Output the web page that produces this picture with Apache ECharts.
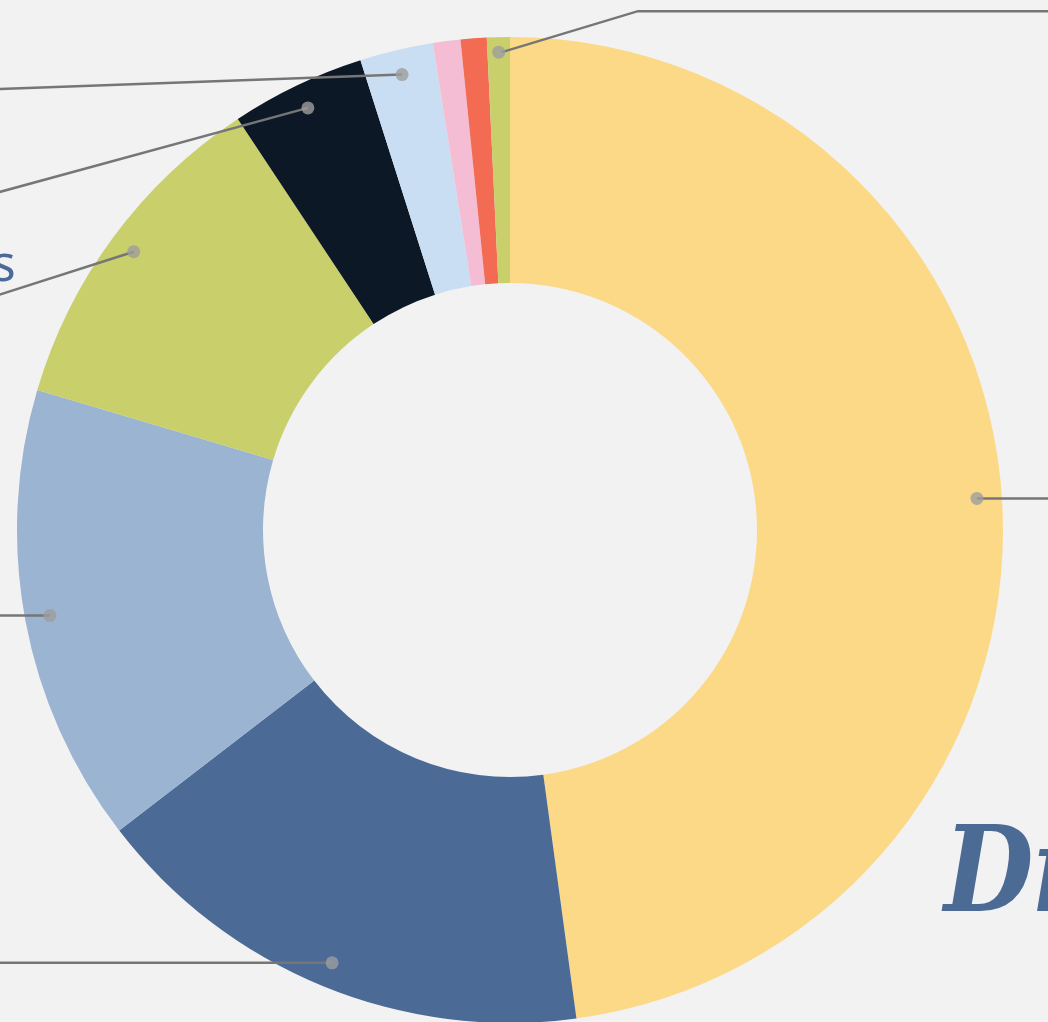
<!DOCTYPE html>
<html><head><meta charset="utf-8">
<script src="https://cdn.jsdelivr.net/npm/echarts@6/dist/echarts.min.js"></script>
<style>html,body{margin:0;padding:0;background:#f2f2f2;overflow:hidden}#chart{width:1048px;height:1022px}</style>
</head><body><div id="chart"></div>
<script>
// ---- data ----
const categories = ["Housing", "Transportation", "Food", "Utilities", "Healthcare", "Insurance", "Education", "Entertainment", "Other"];
const values = [47.8, 16.7, 15.0, 11.1, 4.4, 2.4, 0.9, 0.85, 0.75];
const titleText = "Distribution";

// ---- styles ----
const colors = ['#fcd987', '#4b6b96', '#9bb4d1', '#c9cf6a', '#0c1826', '#c9def3', '#f5bdd4', '#f26b52', '#c9cf6a'];
const hasLeader = [true, true, true, true, true, true, false, false, true];
const CX = 510, CY = 530, R_OUT = 493, R_IN = 247, R_DOT = 468;
const dotRadius = [468, 468, 468, 468, 468, 468, 468, 468, 478];
// leader geometry relative to the dot (bend, end) and label anchor
const leaders = [
  { pts: [[150, 0], [400, 0]], label: [410, 0], align: 'left' },
  { pts: [[-250, 0], [-500, 0]], label: [-510, 0], align: 'right' },
  { pts: [[-150, 0], [-400, 0]], label: [-410, 0], align: 'right' },
  { pts: [[-172, 55], [-450, 55]], label: [-118, 15], align: 'right' },
  { pts: [[-407, 111], [-700, 111]], label: [-710, 111], align: 'right' },
  { pts: [[-502, 18], [-800, 18]], label: [-810, 18], align: 'right' },
  null, null,
  { start: [3, -10], pts: [[136, -41], [700, -41]], label: [710, -41], align: 'left' }
];

const total = values.reduce((a, b) => a + b, 0);
let acc = 0;
const dots = [];
values.forEach((v, i) => {
  const mid = acc + v / 2;
  acc += v;
  if (hasLeader[i]) dots.push([dotRadius[i], mid]);
});

const chart = echarts.init(document.getElementById('chart'));
chart.setOption({
  backgroundColor: '#f2f2f2',
  animation: false,
  polar: { center: [CX, CY], radius: R_OUT },
  radiusAxis: { type: 'value', min: 0, max: R_OUT, show: false, axisLine: {show: false}, splitLine: {show: false}, axisLabel: {show: false}, axisTick: {show: false} },
  angleAxis: { type: 'value', min: 0, max: total, startAngle: 90, clockwise: true, show: false, axisLine: {show: false}, splitLine: {show: false}, axisLabel: {show: false}, axisTick: {show: false} },
  graphic: [{
    type: 'text', x: 944, y: 820, scaleX: 0.86, z: 10,
    style: { text: titleText, x: 0, y: 0, verticalAlign: 'top', font: 'italic bold 120px "DejaVu Serif"', fill: '#4b6a94' }
  }],
  series: [
    {
      type: 'pie', center: [CX, CY], radius: [R_IN, R_OUT], silent: true,
      startAngle: 90, clockwise: true, label: { show: false }, labelLine: { show: false },
      data: values.map((v, i) => ({ name: categories[i], value: v, itemStyle: { color: colors[i] } })),
      z: 1
    },
    {
      type: 'pie', center: [CX, CY], radius: [0, R_DOT], silent: true,
      startAngle: 90, clockwise: true, avoidLabelOverlap: false,
      itemStyle: { color: 'rgba(0,0,0,0)' },
      label: { show: true, position: 'outside', fontFamily: 'Noto Sans', fontSize: 50, color: '#4a6a9a', formatter: '{b}' },
      labelLine: { show: true, length: 20, length2: 20, lineStyle: { color: '#767676', width: 2.5 } },
      data: values.map((v, i) => ({
        name: categories[i], value: v,
        label: { show: hasLeader[i] }, labelLine: { show: hasLeader[i] }
      })),
      labelLayout: function (p) {
        const L = leaders[p.dataIndex];
        if (!L || !p.labelLinePoints) return {};
        const o = L.start || [0, 0];
        const s = [p.labelLinePoints[0][0] + o[0], p.labelLinePoints[0][1] + o[1]];
        return {
          x: s[0] + L.label[0], y: s[1] + L.label[1],
          align: L.align, verticalAlign: 'middle',
          labelLinePoints: [[s[0], s[1]], [s[0] + L.pts[0][0], s[1] + L.pts[0][1]], [s[0] + L.pts[1][0], s[1] + L.pts[1][1]]]
        };
      },
      z: 2
    },
    {
      type: 'scatter', coordinateSystem: 'polar', silent: true,
      symbol: 'circle', symbolSize: 13, itemStyle: { color: '#9e9e9e' },
      data: dots, z: 5
    }
  ]
});
</script></body></html>
